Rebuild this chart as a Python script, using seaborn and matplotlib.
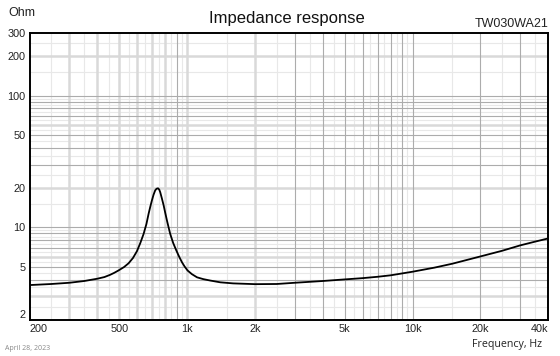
import matplotlib
matplotlib.use("Agg")
import matplotlib.pyplot as plt
import seaborn as sns
import pandas as pd
from matplotlib.ticker import FixedLocator, FixedFormatter, NullLocator

# ---- data ----
freq_hz = [200, 250, 300, 350, 400, 430, 456, 475, 496, 525, 550, 575, 599, 620,
           641, 660, 675, 687, 698, 710, 722, 732, 743, 752, 760, 773, 787, 800,
           814, 828, 842, 868, 896, 922, 949, 975, 1005, 1050, 1107, 1180, 1268,
           1405, 1600, 2000, 2500, 3000, 4000, 5000, 6000, 7000, 8000, 10000,
           12500, 15000, 20000, 25000, 30000, 35000, 40000]
impedance_ohm = [3.65, 3.72, 3.80, 3.92, 4.08, 4.20, 4.37, 4.52, 4.71, 5.00, 5.34,
                 5.85, 6.59, 7.60, 8.9, 10.6, 12.7, 14.4, 16.0, 17.7, 19.1, 19.65,
                 19.8, 19.4, 18.5, 16.6, 14.7, 12.9, 11.3, 10.0, 8.9, 7.6, 6.68,
                 6.0, 5.44, 5.05, 4.71, 4.42, 4.18, 4.05, 3.95, 3.83, 3.76, 3.71,
                 3.72, 3.80, 3.92, 4.03, 4.12, 4.22, 4.33, 4.61, 4.95, 5.3, 6.02,
                 6.65, 7.3, 7.8, 8.25]

x_ticks = [200, 500, 1000, 2000, 5000, 10000, 20000, 40000]
x_tick_labels = ["200", "500", "1k", "2k", "5k", "10k", "20k", "40k"]
y_ticks = [2, 5, 10, 20, 50, 100, 200, 300]
y_tick_labels = ["2", "5", "10", "20", "50", "100", "200", "300"]

# grid line positions (two overlaid grids in the reference)
vgrid_thin = [250, 350, 450, 550, 650, 750, 850, 950, 1500, 2500, 3500, 4500, 5500,
              6500, 7500, 8500, 9500, 15000, 25000, 35000]
vgrid_thick = [300, 400, 500, 600, 700, 800, 1000, 2000]
vgrid_dark = [900, 3000, 4000, 5000, 6000, 7000, 8000, 9000, 10000, 20000, 30000]
hgrid_thin = [2.5, 3.5, 4.5, 5.5, 6.5, 7.5, 8.5, 9.5, 15, 25, 35, 45, 55, 65, 75,
              85, 95, 150, 250]
hgrid_thick = [3, 6, 20, 60, 200]
hgrid_dark = [4, 5, 7, 8, 9, 10, 30, 40, 50, 70, 80, 90, 100]

df = pd.DataFrame({"freq": freq_hz, "z": impedance_ohm})

sns.set_theme(style="white")
plt.rcParams['font.family'] = ['Liberation Sans', 'DejaVu Sans']

fig = plt.figure(figsize=(5.6, 3.56), dpi=100)
ax = fig.add_axes([0.0527, 0.1025, 0.9263, 0.8055])

ax.set_xscale("log")
ax.set_yscale("log")
ax.set_xlim(200, 40000)
ax.set_ylim(2, 300)

for v in vgrid_thin:
    ax.axvline(v, color="#e8e8e8", lw=0.8, zorder=0)
for v in hgrid_thin:
    ax.axhline(v, color="#e8e8e8", lw=0.8, zorder=0)
for v in vgrid_thick:
    ax.axvline(v, color="#d9d9d9", lw=1.8, zorder=0.5)
for v in hgrid_thick:
    ax.axhline(v, color="#d9d9d9", lw=1.8, zorder=0.5)
for v in vgrid_dark:
    ax.axvline(v, color="#acacac", lw=0.8, zorder=1)
for v in hgrid_dark:
    ax.axhline(v, color="#acacac", lw=0.8, zorder=1)

sns.lineplot(data=df, x="freq", y="z", ax=ax, color="black", lw=1.3, zorder=3)

ax.xaxis.set_major_locator(FixedLocator(x_ticks))
ax.xaxis.set_major_formatter(FixedFormatter(x_tick_labels))
ax.xaxis.set_minor_locator(NullLocator())
ax.yaxis.set_major_locator(FixedLocator(y_ticks))
ax.yaxis.set_major_formatter(FixedFormatter(y_tick_labels))
ax.yaxis.set_minor_locator(NullLocator())
ax.tick_params(axis="both", length=0, labelsize=7.8, colors="#222222", pad=3)
ax.set_xlabel("")
ax.set_ylabel("")

# edge tick labels kept inside the frame extent, as in the reference
xl = ax.get_xticklabels()
xl[0].set_horizontalalignment("left")
xl[-1].set_horizontalalignment("right")
yl = ax.get_yticklabels()
yl[0].set_verticalalignment("bottom")

for s in ax.spines.values():
    s.set_color("black")
    s.set_linewidth(1.4)
    s.set_zorder(5)

fig.text(21.5 / 560, 1 - 13 / 356, "Ohm", fontsize=9, ha="center", va="center", color="#222222")
fig.text(287 / 560, 1 - 18 / 356, "Impedance response", fontsize=12, ha="center", va="center", color="#111111")
fig.text(511.5 / 560, 1 - 24 / 356, "TW030WA21", fontsize=9, ha="center", va="center", color="#222222")
fig.text(507.5 / 560, 1 - 345 / 356, "Frequency, Hz", fontsize=7.7, ha="center", va="center",
         color="#222222", family=["Open Sans", "DejaVu Sans"])
fig.text(5 / 560, 1 - 349 / 356, "April 28, 2023", fontsize=5, ha="left", va="center",
         color="#888888", family=["Open Sans", "DejaVu Sans"])

fig.savefig("out.png", dpi=100)
